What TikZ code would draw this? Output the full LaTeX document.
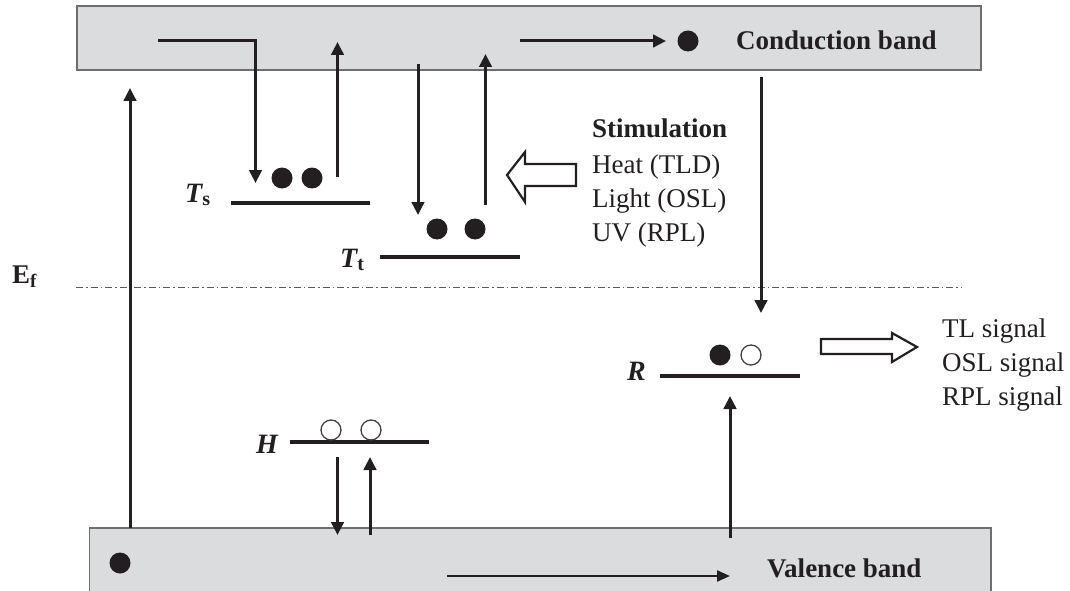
\documentclass[tikz,border=0pt]{standalone}
\usepackage{fontspec}
\setmainfont{Liberation Serif}
\usetikzlibrary{arrows.meta}
\definecolor{bandgray}{HTML}{DBDCDE}
\definecolor{bandedge}{HTML}{6D6E70}
\definecolor{ink}{HTML}{231F20}
\tikzset{
  band/.style={fill=bandgray, draw=bandedge, line width=1.2pt},
  trans/.style={draw=ink, line width=3pt, -{Triangle[length=13pt,width=12.5pt]}},
  level/.style={draw=ink, line width=4.5pt},
  edot/.style={fill=ink, draw=none},
  hdot/.style={draw=ink!85, line width=1.3pt, fill=white},
  hollowarrow/.style={draw=ink, line width=2.2pt, fill=white, line join=miter},
  txt/.style={font=\fontsize{27}{32}\selectfont, text=ink, inner sep=0pt, anchor=base west},
  btxt/.style={txt, font=\fontsize{27}{32}\selectfont\bfseries},
  lbl/.style={txt, font=\fontsize{28}{32}\selectfont\bfseries\itshape}
}
\begin{document}
\begin{tikzpicture}[x=1pt,y=-1pt]
\useasboundingbox (0,0) rectangle (1070,591);
\begin{scope}
\clip (0,0) rectangle (1070,591);
% bands
\draw[band] (77,6) rectangle (981,70);
\draw[band] (89.5,528) rectangle (991,605);
\end{scope}
\node[btxt] (cbt) at (736,50) {Conduction band};
\node[btxt] (vbt) at (767,577) {Valence band};

% Fermi level
\draw[ink!75, line width=0.9pt, dash pattern=on 7pt off 3pt on 1.5pt off 3pt] (76,287) -- (962,287);
\node[txt, font=\fontsize{27}{32}\selectfont\bfseries] (ef) at (12,283) {E\raisebox{-4pt}{\fontsize{19}{20}\selectfont f}};

% levels
\draw[level] (231,203) coordinate (ts1) -- (370,203) coordinate (ts2);
\draw[level] (380,257) coordinate (tt1) -- (520,257) coordinate (tt2);
\draw[level] (290,442) coordinate (h1) -- (429,442) coordinate (h2);
\draw[level] (660,376) coordinate (r1) -- (800,376) coordinate (r2);

\node[lbl] (tsl) at (185,202) {T\raisebox{-3pt}{\fontsize{20}{20}\selectfont\upshape s}};
\node[lbl] (ttl) at (340,267) {T\raisebox{-3pt}{\fontsize{20}{20}\selectfont\upshape t}};
\node[lbl] (hl) at (256,453) {H};
\node[lbl] (rl) at (627,380) {R};

% electrons and holes
\fill[edot] (282,178) circle (10.5);
\fill[edot] (312,178) circle (10.5);
\fill[edot] (437,229) circle (10.5);
\fill[edot] (475,229) circle (10.5);
\fill[edot] (688,41) circle (10.5);
\fill[edot] (120,563) circle (10.5);
\fill[edot] (720,355) circle (10.5);
\draw[hdot] (751,355) circle (10);
\draw[hdot] (331,430) circle (10);
\draw[hdot] (371,430) circle (10);

% transition coordinates
\coordinate (a1s) at (130,528); \coordinate (a1e) at (130,88);
\coordinate (a2s) at (158,41);  \coordinate (a2e) at (255.5,183);
\coordinate (a3s) at (337.5,177); \coordinate (a3e) at (337.5,42);
\coordinate (a4s) at (418,64);  \coordinate (a4e) at (418,215);
\coordinate (a5s) at (485.5,205); \coordinate (a5e) at (485.5,54);
\coordinate (a6s) at (520,41);  \coordinate (a6e) at (666,41);
\coordinate (a7s) at (761,77);  \coordinate (a7e) at (761,313);
\coordinate (a8s) at (337.5,457); \coordinate (a8e) at (337.5,535);
\coordinate (a9s) at (370,535); \coordinate (a9e) at (370,457);
\coordinate (a10s) at (730,538); \coordinate (a10e) at (730,396);
\coordinate (a11s) at (447,576); \coordinate (a11e) at (730,576);

\draw[trans] (a1s) -- (a1e);
\draw[trans] (a2s) -| (a2e);
\draw[trans] (a3s) -- (a3e);
\draw[trans] (a4s) -- (a4e);
\draw[trans] (a5s) -- (a5e);
\draw[trans] (a6s) -- (a6e);
\draw[trans] (a7s) -- (a7e);
\draw[trans] (a8s) -- (a8e);
\draw[trans] (a9s) -- (a9e);
\draw[trans] (a10s) -- (a10e);
\draw[line width=2.2pt, draw=ink, -{Triangle[length=13pt,width=11pt]}] (a11s) -- (a11e);

% hollow arrows
\draw[hollowarrow] (507,175) -- (525,152) -- (525,164) -- (576,164) -- (576,186) -- (525,186) -- (525,202) -- cycle;
\draw[hollowarrow] (821,339) -- (892,339) -- (892,333) -- (917,347) -- (892,362) -- (892,354) -- (821,354) -- cycle;

% stimulation text
\node[btxt] (st0) at (592,138) {Stimulation};
\node[txt] (st1) at (592,173) {Heat (TLD)};
\node[txt] (st2) at (592,207) {Light (OSL)};
\node[txt] (st3) at (592,241) {UV (RPL)};

% signal text
\node[txt] (sg1) at (942,337) {TL signal};
\node[txt] (sg2) at (942,371) {OSL signal};
\node[txt] (sg3) at (942,405) {RPL signal};
\end{tikzpicture}
\end{document}
